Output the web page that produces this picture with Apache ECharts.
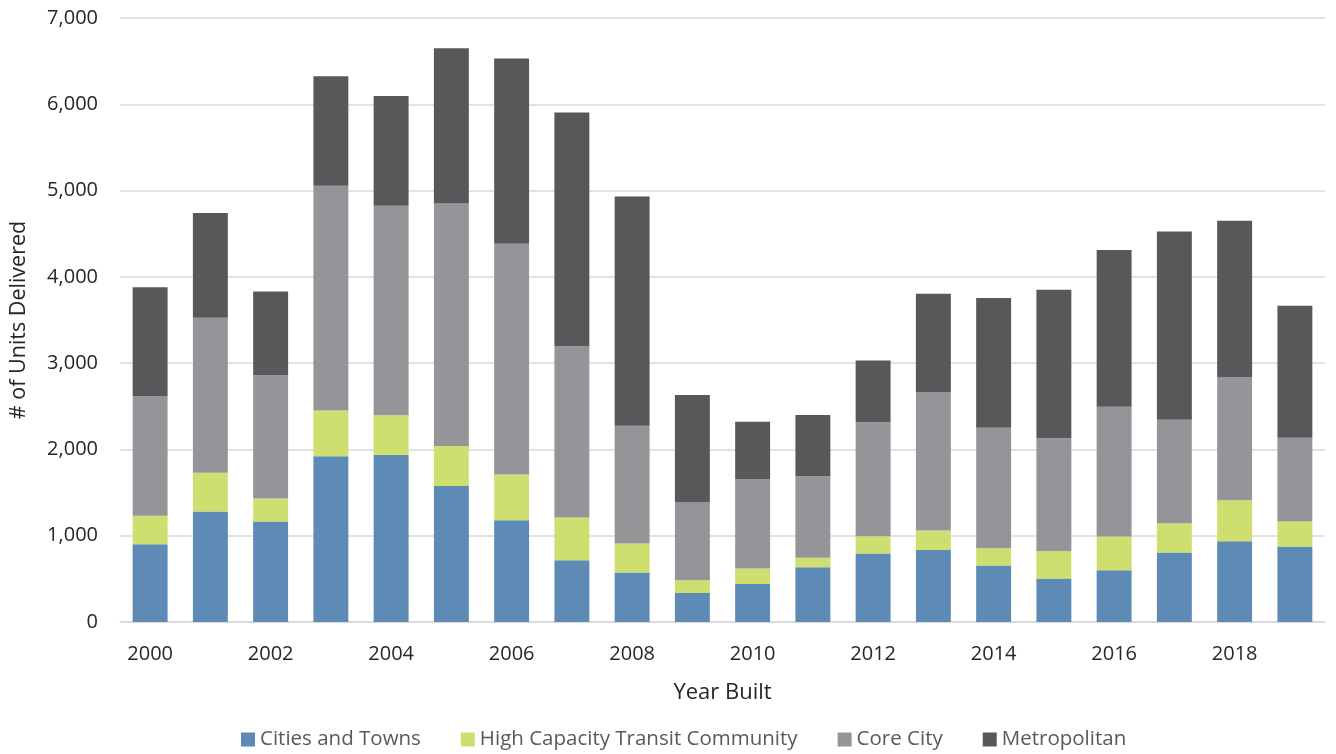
<!DOCTYPE html>
<html>
<head>
<meta charset="utf-8">
<script src="https://cdn.jsdelivr.net/npm/echarts@6/dist/echarts.min.js"></script>
<style>
  html, body { margin: 0; padding: 0; background: #fff; }
  #chart { width: 1336px; height: 754px; }
</style>
</head>
<body>
<div id="chart"></div>
<script>
const years = ['2000', '2001', '2002', '2003', '2004', '2005', '2006', '2007', '2008', '2009',
  '2010', '2011', '2012', '2013', '2014', '2015', '2016', '2017', '2018', '2019']

// units delivered per area type
const citiesTowns = [900, 1280, 1165, 1920, 1935, 1575, 1180, 715, 575, 335, 440, 635, 795, 835, 655, 505, 600, 805, 935, 875]
const highCapacity = [330, 450, 265, 530, 460, 465, 530, 495, 335, 150, 180, 110, 200, 225, 200, 315, 390, 340, 475, 290]
const coreCity = [1390, 1795, 1430, 2605, 2430, 2810, 2675, 1985, 1365, 900, 1035, 945, 1320, 1600, 1395, 1310, 1505, 1200, 1430, 970]
const metropolitan = [1260, 1215, 970, 1270, 1270, 1800, 2145, 2710, 2655, 1245, 665, 710, 715, 1145, 1505, 1720, 1815, 2180, 1810, 1530]

const FONT = '"Open Sans", "Noto Sans", sans-serif'

const chart = echarts.init(document.getElementById('chart'))

function barSeries(name, data, color) {
  return {
    name: name,
    type: 'bar',
    stack: 'total',
    data: data,
    barWidth: '58%',
    itemStyle: { color: color },
    emphasis: { disabled: true }
  }
}

const option = {
  animation: false,
  textStyle: { fontFamily: FONT },
  grid: {
    left: 115,
    right: 11,
    top: 18,
    bottom: 132
  },
  legend: {
    top: 724,
    left: 236,
    itemWidth: 14,
    itemHeight: 14,
    itemGap: 40,
    icon: 'rect',
    textStyle: { color: '#595959', fontSize: 20.5, fontFamily: FONT },
    data: ['Cities and Towns', 'High Capacity Transit Community', 'Core City', 'Metropolitan']
  },
  xAxis: {
    type: 'category',
    data: years,
    name: 'Year Built',
    nameLocation: 'middle',
    nameGap: 60,
    nameTextStyle: { color: '#262626', fontSize: 22, fontFamily: FONT },
    axisLine: { lineStyle: { color: '#d9d9d9', width: 1.5 } },
    axisTick: { show: false },
    axisLabel: {
      interval: 1,
      color: '#262626',
      fontSize: 20,
      margin: 22,
      fontFamily: FONT
    }
  },
  yAxis: {
    type: 'value',
    min: 0,
    max: 7000,
    interval: 1000,
    name: '# of Units Delivered',
    nameLocation: 'middle',
    nameGap: 90,
    nameTextStyle: { color: '#262626', fontSize: 21.5, fontFamily: FONT },
    axisLine: { show: false },
    axisTick: { show: false },
    axisLabel: {
      color: '#262626',
      fontSize: 20,
      margin: 22,
      fontFamily: FONT,
      formatter: v => v.toLocaleString('en-US')
    },
    splitLine: { lineStyle: { color: '#d9d9d9', width: 1.5 } }
  },
  series: [
    barSeries('Cities and Towns', citiesTowns, '#5e8bb5'),
    barSeries('High Capacity Transit Community', highCapacity, '#cedf6f'),
    barSeries('Core City', coreCity, '#949598'),
    barSeries('Metropolitan', metropolitan, '#58585a')
  ]
}

chart.setOption(option)
</script>
</body>
</html>
